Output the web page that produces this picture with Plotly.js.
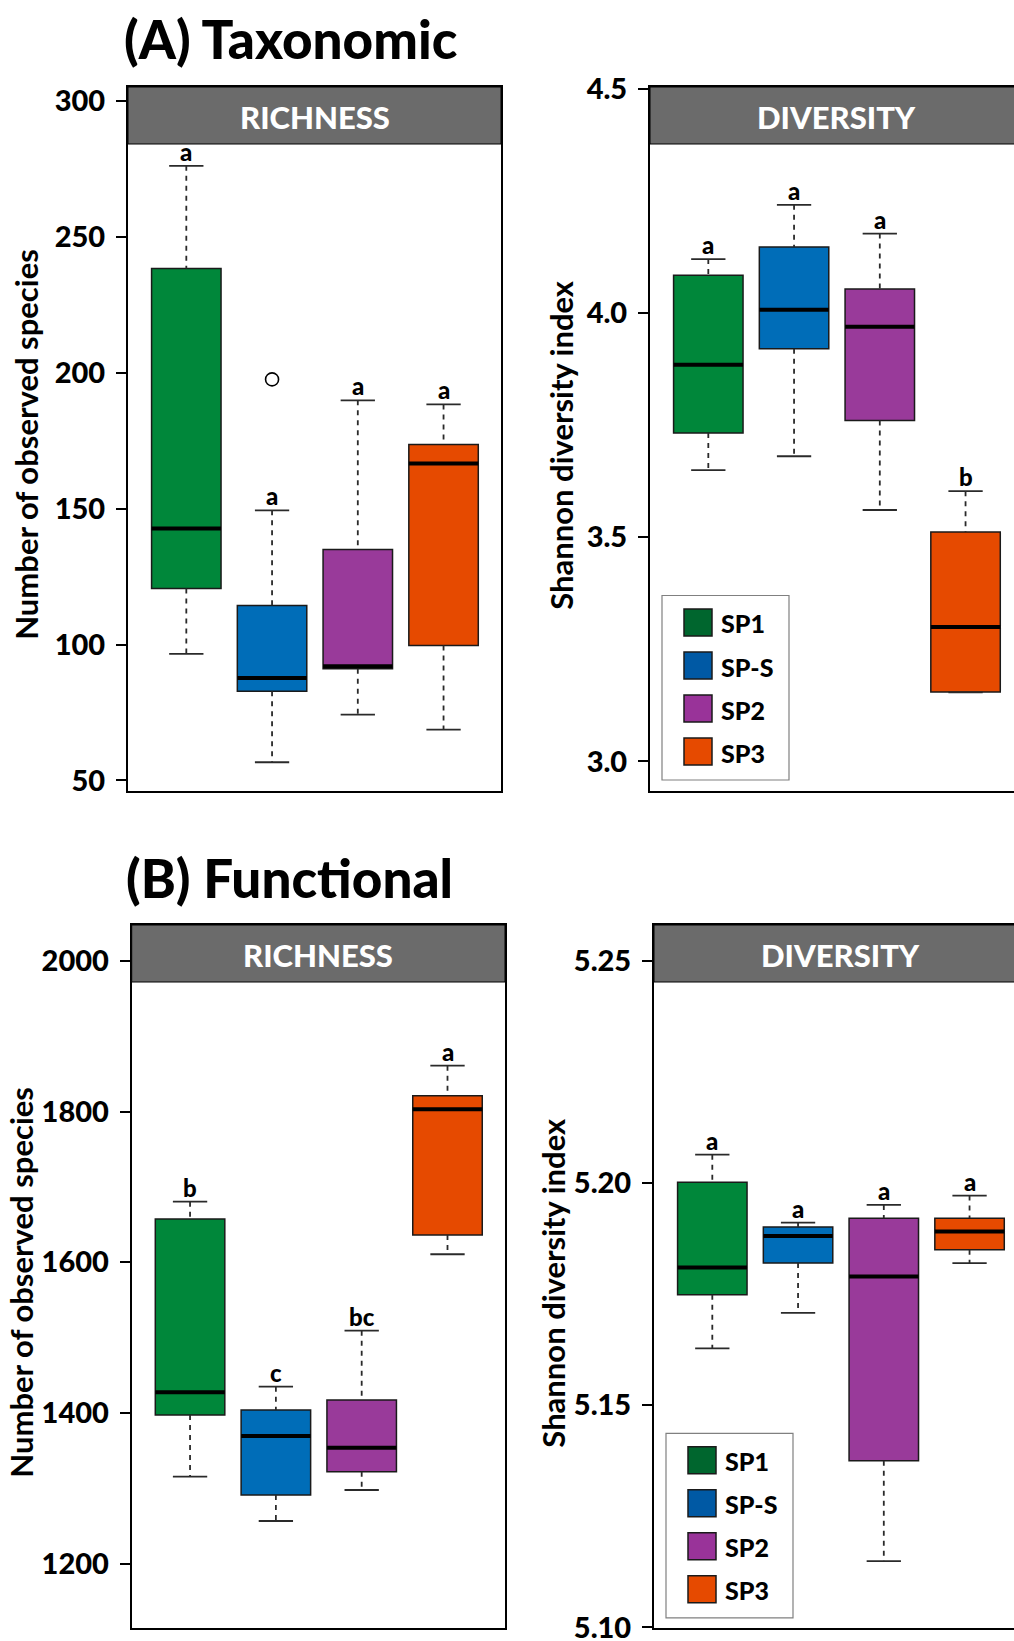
<!DOCTYPE html>
<html>
<head>
<meta charset="utf-8">
<script src="https://cdn.plot.ly/plotly-3.0.1.min.js"></script>
<style>
html,body{margin:0;padding:0;overflow:hidden;background:#ffffff;}
#chart{width:1040px;height:1641px;}
</style>
</head>
<body>
<div id="chart"></div>
<script>
// ---------------- DATA ----------------
const groups = ['SP1', 'SP-S', 'SP2', 'SP3'];
const boxColors = ['#00873a', '#006db8', '#993a9a', '#e64a00'];
const legendColors = ['#00662e', '#0059a4', '#993399', '#e64a00'];

// (A) Taxonomic — richness (number of observed species)
const taxRichLow  = [96.6, 56.7, 74.2, 68.7];
const taxRichQ1   = [120.6, 82.8, 91.1, 99.7];
const taxRichMed  = [142.7, 87.7, 92.0, 166.6];
const taxRichQ3   = [238.4, 114.4, 135.0, 173.6];
const taxRichHigh = [276.2, 149.4, 189.9, 188.4];
const taxRichLetters = ['a', 'a', 'a', 'a'];
const taxRichOutlierGroup = ['SP-S'];
const taxRichOutlierValue = [197.6];
const taxRichTicks = [50, 100, 150, 200, 250, 300];
const taxRichTickText = ['50', '100', '150', '200', '250', '300'];

// (A) Taxonomic — diversity (Shannon)
const taxDivLow  = [3.650, 3.681, 3.561, 3.154];
const taxDivQ1   = [3.733, 3.921, 3.761, 3.155];
const taxDivMed  = [3.885, 4.008, 3.970, 3.300];
const taxDivQ3   = [4.085, 4.148, 4.054, 3.512];
const taxDivHigh = [4.121, 4.242, 4.178, 3.603];
const taxDivLetters = ['a', 'a', 'a', 'b'];
const taxDivTicks = [3.0, 3.5, 4.0, 4.5];
const taxDivTickText = ['3.0', '3.5', '4.0', '4.5'];

// (B) Functional — richness
const funRichLow  = [1315.7, 1257.0, 1298.1, 1610.7];
const funRichQ1   = [1397.6, 1291.5, 1322.4, 1636.3];
const funRichMed  = [1427.7, 1369.7, 1354.2, 1802.9];
const funRichQ3   = [1657.5, 1404.2, 1417.5, 1821.0];
const funRichHigh = [1680.4, 1435.1, 1509.3, 1860.8];
const funRichLetters = ['b', 'c', 'bc', 'a'];
const funRichTicks = [1200, 1400, 1600, 1800, 2000];
const funRichTickText = ['1200', '1400', '1600', '1800', '2000'];

// (B) Functional — diversity
const funDivLow  = [5.1628, 5.1708, 5.1149, 5.1820];
const funDivQ1   = [5.1749, 5.1820, 5.1375, 5.1850];
const funDivMed  = [5.1810, 5.1881, 5.1790, 5.1891];
const funDivQ3   = [5.2002, 5.1901, 5.1921, 5.1921];
const funDivHigh = [5.2064, 5.1911, 5.1951, 5.1972];
const funDivLetters = ['a', 'a', 'a', 'a'];
const funDivTicks = [5.10, 5.15, 5.20, 5.25];
const funDivTickText = ['5.10', '5.15', '5.20', '5.25'];

const sectionTitles = ['(A) Taxonomic', '(B) Functional'];
const stripLabels = ['RICHNESS', 'DIVERSITY'];
const yTitles = ['Number of observed species', 'Shannon diversity index'];

// ---------------- LAYOUT HELPERS ----------------
const W = 1040, H = 1641;
const FONT = 'Lato, "Open Sans", sans-serif';
const HEAVY = 900;
const px = v => v / W;
const py = v => 1 - v / H;

const panels = [
  {low: taxRichLow, q1: taxRichQ1, med: taxRichMed, q3: taxRichQ3, high: taxRichHigh, letters: taxRichLetters,
   outG: taxRichOutlierGroup, outV: taxRichOutlierValue, ticks: taxRichTicks, tickText: taxRichTickText,
   left: 128, right: 501, top: 87, bottom: 790.5, yr: [46.3, 305.2], strip: stripLabels[0], ytitle: yTitles[0], titleX: 26, legend: false},
  {low: taxDivLow, q1: taxDivQ1, med: taxDivMed, q3: taxDivQ3, high: taxDivHigh, letters: taxDivLetters,
   outG: [], outV: [], ticks: taxDivTicks, tickText: taxDivTickText,
   left: 650, right: 1023, top: 87, bottom: 790.5, yr: [2.935, 4.505], strip: stripLabels[1], ytitle: yTitles[1], titleX: 561, legend: true},
  {low: funRichLow, q1: funRichQ1, med: funRichMed, q3: funRichQ3, high: funRichHigh, letters: funRichLetters,
   outG: [], outV: [], ticks: funRichTicks, tickText: funRichTickText,
   left: 131.7, right: 505, top: 925, bottom: 1628.3, yr: [1114.7, 2047.3], strip: stripLabels[0], ytitle: yTitles[0], titleX: 21, legend: false},
  {low: funDivLow, q1: funDivQ1, med: funDivMed, q3: funDivQ3, high: funDivHigh, letters: funDivLetters,
   outG: [], outV: [], ticks: funDivTicks, tickText: funDivTickText,
   left: 654, right: 1027, top: 925, bottom: 1628.3, yr: [5.0998, 5.2581], strip: stripLabels[1], ytitle: yTitles[1], titleX: 553, legend: true}
];

const traces = [];
const shapes = [];
const annotations = [];
const layout = {
  width: W, height: H,
  margin: {l: 0, r: 0, t: 0, b: 0},
  paper_bgcolor: '#ffffff', plot_bgcolor: '#ffffff',
  showlegend: false,
  boxmode: 'overlay',
  font: {family: FONT, color: '#000000'}
};

const BOXW = 0.81, CAPW = 0.2;

panels.forEach((p, k) => {
  const xn = k === 0 ? 'x' : 'x' + (k + 1);
  const yn = k === 0 ? 'y' : 'y' + (k + 1);
  const xk = k === 0 ? 'xaxis' : 'xaxis' + (k + 1);
  const yk = k === 0 ? 'yaxis' : 'yaxis' + (k + 1);

  layout[xk] = {
    domain: [px(p.left), px(p.right)], range: [-0.68, 3.67], anchor: yn,
    showticklabels: false, ticks: '', showgrid: false, zeroline: false,
    showline: true, mirror: true, linecolor: '#000000', linewidth: 2, fixedrange: true
  };
  layout[yk] = {
    domain: [py(p.bottom), py(p.top)], range: p.yr, anchor: xn,
    tickmode: 'array', tickvals: p.ticks, ticktext: p.tickText,
    ticks: 'outside', ticklen: 10, tickwidth: 2, tickcolor: '#000000',
    tickfont: {family: FONT, size: 29, color: '#000000', weight: HEAVY},
    ticklabelstandoff: 5, ticklabeloverflow: 'allow',
    showgrid: false, zeroline: false,
    showline: true, mirror: true, linecolor: '#000000', linewidth: 2, fixedrange: true
  };

  groups.forEach((g, i) => {
    traces.push({
      type: 'box', orientation: 'v', x: [i],
      q1: [p.q1[i]], median: [p.med[i]], q3: [p.q3[i]],
      lowerfence: [p.q1[i]], upperfence: [p.q3[i]],
      width: BOXW, whiskerwidth: 0, boxpoints: false,
      fillcolor: boxColors[i], line: {color: '#1a1a1a', width: 1.5},
      xaxis: xn, yaxis: yn, hoverinfo: 'skip', name: g
    });
    traces.push({
      type: 'scatter', mode: 'lines', xaxis: xn, yaxis: yn, hoverinfo: 'skip',
      x: [i, i, null, i, i], y: [p.high[i], p.q3[i], null, p.q1[i], p.low[i]],
      line: {color: '#2a2a2a', width: 1.8, dash: '5px,5px'}
    });
    traces.push({
      type: 'scatter', mode: 'lines', xaxis: xn, yaxis: yn, hoverinfo: 'skip',
      x: [i - CAPW, i + CAPW, null, i - CAPW, i + CAPW], y: [p.high[i], p.high[i], null, p.low[i], p.low[i]],
      line: {color: '#2a2a2a', width: 1.8}
    });
    traces.push({
      type: 'scatter', mode: 'lines', xaxis: xn, yaxis: yn, hoverinfo: 'skip',
      x: [i - BOXW / 2, i + BOXW / 2], y: [p.med[i], p.med[i]],
      line: {color: '#000000', width: 4}
    });
    annotations.push({
      xref: xn, yref: yn, x: i, y: p.high[i], yanchor: 'bottom', xanchor: 'center',
      text: p.letters[i], showarrow: false, yshift: -2,
      font: {family: FONT, size: 24, color: '#000000', weight: HEAVY}
    });
  });

  if (p.outG.length) {
    traces.push({
      type: 'scatter', mode: 'markers', xaxis: xn, yaxis: yn, hoverinfo: 'skip',
      x: p.outG.map(g => groups.indexOf(g)), y: p.outV,
      marker: {symbol: 'circle-open', size: 13, color: '#000000', line: {width: 1.6}}
    });
  }

  shapes.push({
    type: 'rect', layer: 'above', xref: xn + ' domain', yref: 'paper',
    x0: 0, x1: 1, y0: py(p.top + 57), y1: py(p.top),
    fillcolor: '#6b6b6b', line: {color: '#000000', width: 1}
  });
  annotations.push({
    xref: xn + ' domain', yref: 'paper', x: 0.5, y: py(p.top + 30),
    xanchor: 'center', yanchor: 'middle', showarrow: false, text: p.strip,
    font: {family: FONT, size: 31, color: '#ffffff', weight: HEAVY}
  });

  annotations.push({
    xref: 'paper', yref: 'paper', x: px(p.titleX), y: py((p.top + p.bottom) / 2 + 6),
    xanchor: 'center', yanchor: 'middle', showarrow: false, textangle: -90,
    text: p.ytitle, font: {family: FONT, size: 31, color: '#000000', weight: 'bold'}
  });

  if (p.legend) {
    const L = p.left, B = p.bottom;
    shapes.push({
      type: 'rect', layer: 'above', xref: 'paper', yref: 'paper',
      x0: px(L + 12), x1: px(L + 139), y0: py(B - 10.5), y1: py(B - 195),
      fillcolor: '#ffffff', line: {color: '#808080', width: 1.2}
    });
    groups.forEach((g, i) => {
      const top = B - 181.5 + i * 43;
      shapes.push({
        type: 'rect', layer: 'above', xref: 'paper', yref: 'paper',
        x0: px(L + 34), x1: px(L + 62), y0: py(top + 27), y1: py(top),
        fillcolor: legendColors[i], line: {color: '#1a1a1a', width: 1.5}
      });
      annotations.push({
        xref: 'paper', yref: 'paper', x: px(L + 69), y: py(top + 14.5),
        xanchor: 'left', yanchor: 'middle', showarrow: false, text: g,
        font: {family: FONT, size: 25, color: '#000000', weight: HEAVY}
      });
    });
  }
});

annotations.push({
  xref: 'paper', yref: 'paper', x: px(290), y: py(38), xanchor: 'center', yanchor: 'middle',
  showarrow: false, text: sectionTitles[0], font: {family: FONT, size: 53, color: '#000000', weight: HEAVY}
});
annotations.push({
  xref: 'paper', yref: 'paper', x: px(289), y: py(877), xanchor: 'center', yanchor: 'middle',
  showarrow: false, text: sectionTitles[1], font: {family: FONT, size: 53, color: '#000000', weight: HEAVY}
});

layout.shapes = shapes;
layout.annotations = annotations;

Plotly.newPlot('chart', traces, layout, {staticPlot: true, displayModeBar: false});
</script>
</body>
</html>
